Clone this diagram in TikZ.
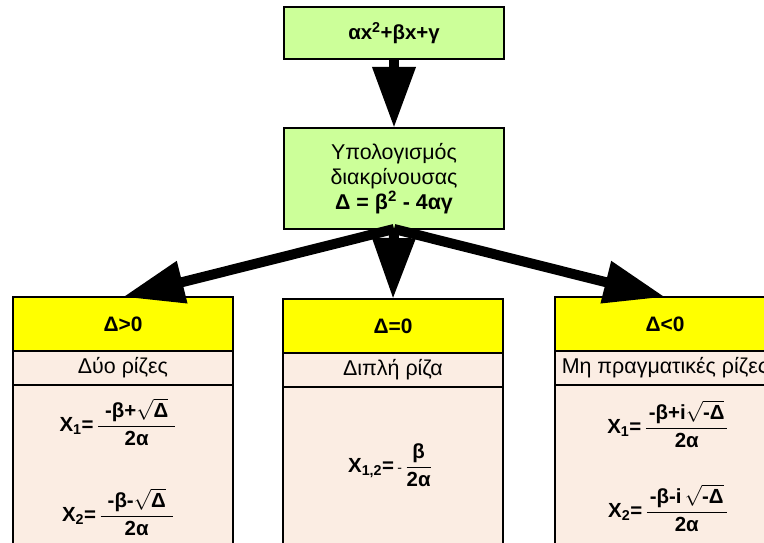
\documentclass[tikz,border=0pt]{standalone}
\usepackage{fontspec}
\setmainfont{Liberation Sans}
\usetikzlibrary{arrows.meta}
\definecolor{boxgreen}{HTML}{CCFF99}
\definecolor{hdryellow}{HTML}{FFFF00}
\definecolor{peach}{HTML}{FBEDE3}
\newcommand\fr[3][5bp]{\ensuremath{\displaystyle\frac{\mbox{\kern#1#2\kern#1}}{\mbox{#3}}}}
\newcommand\rt[1]{\ensuremath{\sqrt{\mbox{#1}}}}
\tikzset{
 box/.style={draw=black, line width=1.6bp, inner sep=0pt, outer sep=0pt, align=center},
 greenbox/.style={box, fill=boxgreen, minimum width=220bp},
 hdr/.style={box, fill=hdryellow, minimum width=220bp, minimum height=54bp, anchor=north, font=\fontsize{21}{24}\selectfont\bfseries},
 subbox/.style={box, fill=peach, minimum width=220bp, minimum height=34bp, anchor=north, font=\fontsize{21.5}{24}\selectfont},
 bodybox/.style={box, fill=peach, minimum width=220bp, minimum height=215bp, anchor=north},
 formula/.style={inner sep=0pt, font=\fontsize{20.5}{24}\selectfont\bfseries},
 bigarrow/.style={line width=10bp, -{Triangle[length=61bp, width=41bp]}},
}
\begin{document}
\begin{tikzpicture}[x=1bp,y=-1bp]
\useasboundingbox (0,0) rectangle (764,543);
\fill[white] (0,0) rectangle (764,543);
\clip (0,0) rectangle (764,543);
% top boxes
\node[greenbox, minimum height=52bp, font=\fontsize{20.5}{23}\selectfont\bfseries] (top) at (394,33) {αx\textsuperscript{2}+βx+γ};
\node[greenbox, minimum height=101bp, font=\fontsize{21.5}{25}\selectfont] (mid) at (394,178.5)
  {Υπολογισμός\\διακρίνουσας\\\textbf{Δ = β\textsuperscript{2} - 4αγ}};
% left column
\node[hdr] (lh) at (123,297) {Δ>0};
\node[subbox] (ls) at (lh.south) {Δύο ρίζες};
\node[bodybox] (lb) at (ls.south) {};
% middle column
\node[hdr] (mh) at (393,299) {Δ=0};
\node[subbox] (ms) at (mh.south) {Διπλή ρίζα};
\node[bodybox] (mb) at (ms.south) {};
% right column
\node[hdr] (rh) at (665,297) {Δ<0};
\node[subbox] (rs) at (rh.south) {Μη πραγματικές ρίζες};
\node[bodybox] (rb) at (rs.south) {};
% formulas
\node[formula] (lx1) at (118,422) {X\textsubscript{1}=\,\fr[7bp]{-β+\rt{Δ}}{2α}};
\node[formula] (lx2) at (118,512) {X\textsubscript{2}=\,\fr[7bp]{-β-\rt{Δ}}{2α}};
\node[formula] (mx) at (390,465) {X\textsubscript{1,2}=\,{\mdseries\fontsize{14}{14}\selectfont -}\,\fr[3bp]{β}{2α}};
\node[formula] (rx1) at (668,424) {X\textsubscript{1}=\,\fr[3bp]{-β+i\rt{-Δ}}{2α}};
\node[formula] (rx2) at (668,508) {X\textsubscript{2}=\,\fr[3bp]{-β-i\,\rt{-Δ}}{2α}};
% arrows
\draw[bigarrow] (top.south) -- (mid.north);
\draw[bigarrow] (mid.south) -- (lh.north);
\draw[bigarrow] (mid.south) -- (mh.north);
\draw[bigarrow] (mid.south) -- (rh.north);
\end{tikzpicture}
\end{document}
